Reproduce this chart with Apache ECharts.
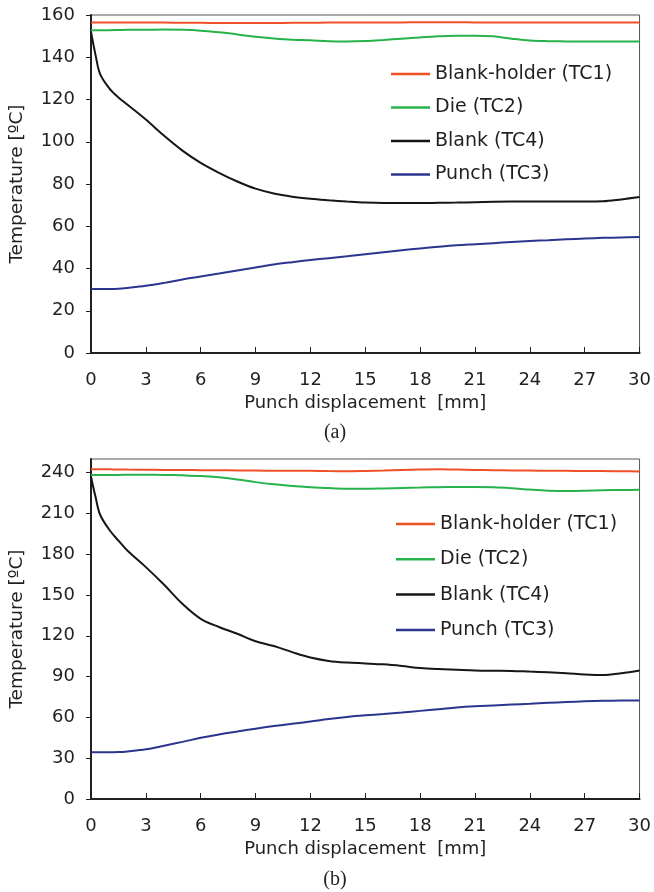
<!DOCTYPE html>
<html><head><meta charset="utf-8">
<script src="https://cdn.jsdelivr.net/npm/echarts@6/dist/echarts.min.js"></script>
<style>html,body{margin:0;padding:0;background:#fff}#c{width:654px;height:892px}</style>
</head><body><div id="c"></div>
<script>
// shared x positions (punch displacement, mm)
const xs = [0,0.25,0.5,1,1.5,2,3,4,5,6,7,8,9,10,11,12,13,14,15,16,17,18,19,20,21,22,23,24,25,26,27,28,29,30];
const xTicks = [0,3,6,9,12,15,18,21,24,27,30];
const names = ['Blank-holder (TC1)','Die (TC2)','Blank (TC4)','Punch (TC3)'];
const colors = ['#ef4f24','#27b34b','#161616','#2b3590'];

// (a)
const a_TC1 = [156.5,156.5,156.5,156.5,156.5,156.5,156.4,156.4,156.3,156.3,156.2,156.2,156.2,156.2,156.3,156.3,156.4,156.4,156.5,156.5,156.5,156.6,156.6,156.6,156.5,156.5,156.5,156.4,156.4,156.4,156.4,156.4,156.4,156.4];
const a_TC2 = [152.8,152.8,152.8,152.8,152.9,153.0,153.0,153.1,153.0,152.6,151.8,150.8,149.7,148.9,148.3,148.0,147.6,147.5,147.7,148.2,148.8,149.4,149.9,150.2,150.2,149.9,148.8,147.9,147.6,147.5,147.4,147.5,147.4,147.4];
const a_TC4 = [152.0,141.0,132.0,125.3,121.0,117.5,110.5,102.8,95.8,90.0,85.3,81.2,77.8,75.5,74.0,73.0,72.3,71.7,71.2,71.0,71.0,71.0,71.1,71.2,71.4,71.6,71.7,71.7,71.7,71.7,71.7,71.8,72.7,73.8];
const a_TC3 = [30.3,30.3,30.3,30.3,30.4,30.8,31.8,33.2,34.8,36.2,37.6,39.1,40.5,41.9,43.0,44.0,44.9,45.8,46.8,47.7,48.6,49.5,50.3,51.0,51.5,52.0,52.5,53.0,53.4,53.8,54.2,54.5,54.7,54.9];
const a_yTicks = [0,20,40,60,80,100,120,140,160];

// (b)
const b_TC1 = [242.5,242.5,242.5,242.4,242.3,242.2,242.1,242.0,241.9,241.8,241.7,241.6,241.5,241.4,241.4,241.3,241.1,241.0,241.2,241.5,241.9,242.2,242.4,242.2,242.0,241.8,241.6,241.5,241.4,241.3,241.2,241.1,241.0,240.8];
const b_TC2 = [238.3,238.3,238.3,238.3,238.3,238.4,238.4,238.3,238.0,237.5,236.5,235.0,233.0,231.4,230.2,229.3,228.6,228.2,228.2,228.4,228.7,229.0,229.3,229.4,229.4,229.2,228.5,227.5,226.7,226.4,226.6,227.0,227.2,227.3];
const b_TC4 = [237.0,222.0,209.0,198.0,190.0,182.5,170.5,157.5,143.5,132.5,126.5,121.5,116.0,112.5,108.0,104.0,101.5,100.3,99.7,99.0,97.8,96.3,95.5,95.0,94.5,94.3,94.2,93.7,93.2,92.5,91.6,91.2,92.5,94.5];
const b_TC3 = [34.3,34.3,34.3,34.3,34.5,35.0,36.5,39.2,42.0,45.0,47.5,49.6,51.7,53.6,55.3,57.0,58.8,60.3,61.5,62.5,63.6,64.8,66.0,67.3,68.2,68.8,69.4,70.0,70.7,71.3,71.8,72.2,72.4,72.5];
const b_yTicks = [0,30,60,90,120,150,180,210,240];

const FONT = 'DejaVu Sans';
const txt = '#231f20';
function zip(v){ return xs.map((x,i)=>[x,v[i]]); }

function xAxis(gi){
  return {
    type:'value', gridIndex:gi, min:0, max:30, interval:3,
    name:'Punch displacement  [mm]', nameLocation:'middle', nameGap:41,
    nameTextStyle:{fontFamily:FONT,fontSize:18,color:txt},
    axisLine:{lineStyle:{color:txt,width:2}},
    axisTick:{inside:true,length:6,lineStyle:{color:txt,width:1}},
    axisLabel:{fontFamily:FONT,fontSize:18,color:txt,margin:18,
      formatter:v=>xTicks.includes(v)?String(v):''},
    splitLine:{show:false}
  };
}
function yAxis(gi,max,interval,ticks){
  return {
    type:'value', gridIndex:gi, min:0, max:max, interval:interval,
    name:'Temperature [ºC]', nameLocation:'middle', nameGap:64,
    nameTextStyle:{fontFamily:FONT,fontSize:18.5,color:txt},
    axisLine:{show:true,lineStyle:{color:txt,width:2}},
    axisTick:{show:true,inside:false,length:5,lineStyle:{color:txt,width:1}},
    axisLabel:{fontFamily:FONT,fontSize:18,color:txt,margin:16,showMaxLabel:ticks.includes(max),
      formatter:v=>ticks.includes(v)?String(v):''},
    splitLine:{show:false}
  };
}
function mk(name,data,gi,ci){
  return {type:'line',name:name,data:zip(data),xAxisIndex:gi,yAxisIndex:gi,
    symbol:'none',smooth:0.35,lineStyle:{color:colors[ci],width:2},itemStyle:{color:colors[ci]},z:3};
}
function legend(left,top,gap){
  return {orient:'vertical',left:left,top:top,itemWidth:39,itemHeight:2.5,icon:'rect',itemGap:gap,
    data:names,selectedMode:false,
    textStyle:{fontFamily:FONT,fontSize:19,color:txt,lineHeight:20,padding:[0,0,0,0]}};
}

const chart = echarts.init(document.getElementById('c'),null,{renderer:'canvas'});
chart.setOption({
  animation:false,
  backgroundColor:'#fff',
  title:[
    {text:'(a)',left:330,top:418,textAlign:'center',textStyle:{fontFamily:'Liberation Serif',fontSize:20,fontWeight:'normal',color:txt}},
    {text:'(b)',left:330,top:865,textAlign:'center',textStyle:{fontFamily:'Liberation Serif',fontSize:20,fontWeight:'normal',color:txt}}
  ],
  grid:[
    {left:90,top:15,width:551,height:338,show:true,borderColor:'#555',borderWidth:1},
    {left:88.5,top:459,width:552,height:340,show:true,borderColor:'#555',borderWidth:1}
  ],
  legend:[legend(386,59,13.5),legend(391,509,15.3)],
  xAxis:[xAxis(0),xAxis(1)],
  yAxis:[yAxis(0,160,20,a_yTicks),yAxis(1,250,30,b_yTicks)],
  series:[
    mk(names[0],a_TC1,0,0),mk(names[1],a_TC2,0,1),mk(names[2],a_TC4,0,2),mk(names[3],a_TC3,0,3),
    mk(names[0],b_TC1,1,0),mk(names[1],b_TC2,1,1),mk(names[2],b_TC4,1,2),mk(names[3],b_TC3,1,3)
  ]
});
</script></body></html>
